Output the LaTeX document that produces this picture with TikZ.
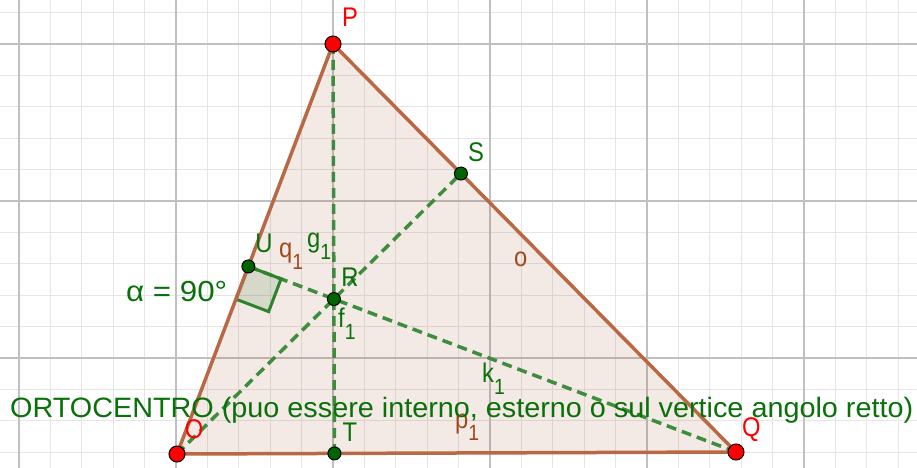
\documentclass[tikz,border=0pt]{standalone}
\usepackage{fontspec}
\setmainfont{Liberation Sans}
\usetikzlibrary{calc}
\definecolor{gridminor}{RGB}{229,229,229}
\definecolor{gridmajor}{RGB}{192,192,192}
\definecolor{brownc}{RGB}{153,51,0}
\definecolor{edgebrown}{RGB}{184,104,68}
\definecolor{dashgreen}{RGB}{62,140,62}
\definecolor{textgreen}{RGB}{10,112,10}
\definecolor{textbrown}{RGB}{162,72,30}
\definecolor{ptgreen}{RGB}{0,100,0}
\definecolor{sqgreen}{RGB}{45,130,45}
\newcommand\lsub[1]{\raisebox{-12bp}{\fontsize{22bp}{24bp}\selectfont #1}}
\newcommand\nar[1]{\scalebox{0.88}[1]{#1}}
\begin{document}
\begin{tikzpicture}[x=1bp,y=-1bp,
  minorline/.style={draw=gridminor,line width=1bp},
  majorline/.style={draw=gridmajor,line width=1.4bp},
  edge/.style={draw=edgebrown,line width=3.5bp,line cap=round,line join=round},
  altitude/.style={draw=dashgreen,line width=3.5bp,dash pattern=on 10bp off 6bp},
  anglesq/.style={draw=sqgreen,line width=3bp,fill=ptgreen,fill opacity=0.12,line join=miter},
  redpt/.style={circle,draw=black,line width=1bp,fill=red,minimum size=16bp,inner sep=0pt},
  greenpt/.style={circle,draw=black,line width=1bp,fill=ptgreen,minimum size=13bp,inner sep=0pt},
  lbl/.style={inner sep=0pt,font=\fontsize{27bp}{30bp}\selectfont},
  redlbl/.style={lbl,text=red},
  greenlbl/.style={lbl,text=textgreen},
  brownlbl/.style={lbl,text=textbrown}]
\useasboundingbox (0,0) rectangle (917,468);
\fill[white] (0,0) rectangle (917,468);
% grid
\foreach \i in {0,...,29} \draw[minorline] ({19+31.4*\i},0) -- ({19+31.4*\i},468);
\foreach \j in {0,...,14} \draw[minorline] (0,{12.6+31.4*\j}) -- (917,{12.6+31.4*\j});
\foreach \xx in {19,176,333,490,647,804} \draw[majorline] (\xx,0) -- (\xx,468);
\foreach \yy in {44,201,358} \draw[majorline] (0,\yy) -- (917,\yy);
% geometry
\coordinate (p) at (333,44);
\coordinate (o) at (177,454);
\coordinate (q) at (736,452);
\coordinate (t) at ($(o)!(p)!(q)$);
\coordinate (s) at ($(p)!(o)!(q)$);
\coordinate (u) at ($(p)!(q)!(o)$);
\coordinate (r) at (intersection of p--t and o--s);
\coordinate (ua) at ($(u)!35bp!(q)$);
\coordinate (ub) at ($(u)!35bp!(o)$);
\coordinate (uc) at ($(ua)+(ub)-(u)$);
% triangle fill
\fill[brownc,fill opacity=0.1] (p) -- (q) -- (o) -- cycle;
% altitudes
\draw[altitude] (p) -- (t);
\draw[altitude] (o) -- (s);
\draw[altitude] (q) -- (u);
% right angle mark
\filldraw[anglesq] (u) -- (ua) -- (uc) -- (ub) -- cycle;
% edges
\draw[edge] (p) -- (q);
\draw[edge] (q) -- (o);
\draw[edge] (o) -- (p);
% points
\node[redpt] (P) at (p) {};
\node[redpt] (O) at (o) {};
\node[redpt] (Q) at (q) {};
\node[greenpt] (T) at (t) {};
\node[greenpt] (S) at (s) {};
\node[greenpt] (U) at (u) {};
\node[greenpt] (R) at (r) {};
% labels
\node[redlbl] (lP) at (350,17) {\nar{P}};
\node[redlbl] (lO) at (194,429) {\nar{O}};
\node[redlbl,anchor=base west] (lQ) at (742,436) {\nar{Q}};
\node[greenlbl] (lT) at (350,432) {\nar{T}};
\node[greenlbl] (lS) at (476,152) {\nar{S}};
\node[greenlbl] (lU) at (264,243) {\nar{U}};
\node[greenlbl] (lR) at (350,277) {\nar{R}};
\node[brownlbl,anchor=base west] (lo) at (514,267) {\nar{o}};
\node[greenlbl,anchor=base west] (lk) at (482,383) {\nar{k\lsub{1}}};
\node[brownlbl,anchor=base west] (lp) at (455,428) {\nar{p\lsub{1}}};
\node[brownlbl,anchor=base west] (lq) at (279,258) {\nar{q\lsub{1}}};
\node[greenlbl,anchor=base west] (lg) at (307,248) {\nar{g\lsub{1}}};
\node[greenlbl,anchor=base west] (lf) at (338,328) {\nar{f\lsub{1}}};
\node[greenlbl,anchor=base west,font=\fontsize{29bp}{30bp}\selectfont] (lalpha) at (126,302) {\resizebox{101bp}{\height}{α = 90°}};
\node[greenlbl,anchor=base west,font=\fontsize{28bp}{30bp}\selectfont] (title) at (10,417) {\resizebox{903bp}{\height}{ORTOCENTRO (puo essere interno, esterno o sul vertice angolo retto)}};
\end{tikzpicture}
\end{document}
